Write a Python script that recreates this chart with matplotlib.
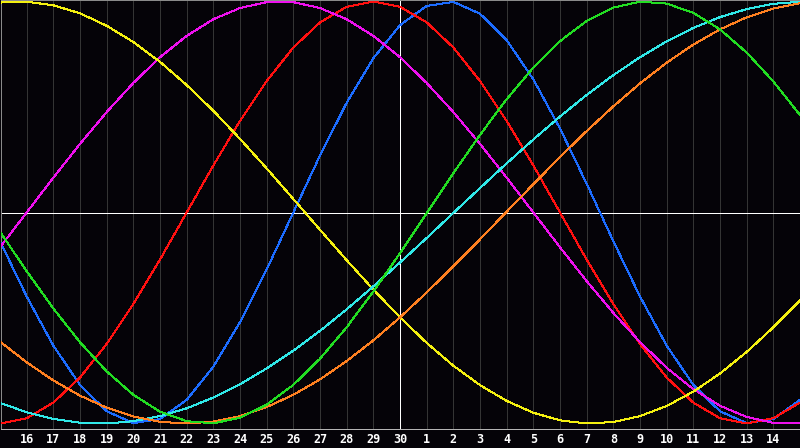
import matplotlib
matplotlib.use("Agg")
import matplotlib.pyplot as plt
from matplotlib.transforms import blended_transform_factory

# Day labels along the bottom (positions 1..29 of a 0..30 day window)
day_labels = [16, 17, 18, 19, 20, 21, 22, 23, 24, 25, 26, 27, 28, 29, 30,
              1, 2, 3, 4, 5, 6, 7, 8, 9, 10, 11, 12, 13, 14]
today_label = 30

# Daily cycle values (-1..1), one per day from day 15 to day 15
physical = [-0.136, -0.398, -0.631, -0.817, -0.942, -0.998, -0.979, -0.888, -0.731, -0.520,
            -0.270, -0.000, 0.270, 0.520, 0.731, 0.888, 0.979, 0.998, 0.942, 0.817, 0.631,
            0.398, 0.136, -0.136, -0.398, -0.631, -0.817, -0.942, -0.998, -0.979, -0.888]
emotional = [-1.000, -0.975, -0.901, -0.782, -0.623, -0.434, -0.223, -0.000, 0.223, 0.434,
             0.623, 0.782, 0.901, 0.975, 1.000, 0.975, 0.901, 0.782, 0.623, 0.434, 0.223,
             0.000, -0.223, -0.434, -0.623, -0.782, -0.901, -0.975, -1.000, -0.975, -0.901]
intellectual = [-0.091, -0.278, -0.455, -0.615, -0.753, -0.864, -0.944, -0.989, -0.999, -0.973,
                -0.911, -0.817, -0.693, -0.544, -0.375, -0.193, -0.004, 0.186, 0.368, 0.537,
                0.687, 0.812, 0.908, 0.971, 0.999, 0.990, 0.946, 0.868, 0.758, 0.621, 0.462]
intuitive = [-0.165, -0.000, 0.165, 0.325, 0.476, 0.614, 0.736, 0.837, 0.916, 0.969,
             0.997, 0.997, 0.969, 0.916, 0.837, 0.736, 0.614, 0.476, 0.325, 0.165, 0.000,
             -0.165, -0.325, -0.476, -0.614, -0.736, -0.837, -0.916, -0.969, -0.997, -0.997]
aesthetic = [0.995, 0.999, 0.982, 0.944, 0.885, 0.808, 0.714, 0.604, 0.482, 0.349,
             0.209, 0.064, -0.082, -0.226, -0.365, -0.497, -0.618, -0.726, -0.818, -0.893,
             -0.949, -0.985, -1.000, -0.993, -0.965, -0.917, -0.849, -0.763, -0.661, -0.544, -0.417]
awareness = [-0.612, -0.710, -0.796, -0.868, -0.925, -0.967, -0.992, -1.000, -0.991, -0.965,
             -0.922, -0.864, -0.791, -0.704, -0.606, -0.497, -0.379, -0.255, -0.127, 0.004,
             0.134, 0.263, 0.386, 0.503, 0.612, 0.710, 0.796, 0.868, 0.925, 0.967, 0.992]
spiritual = [-0.902, -0.947, -0.978, -0.996, -1.000, -0.989, -0.965, -0.928, -0.877, -0.814,
             -0.739, -0.655, -0.561, -0.459, -0.350, -0.237, -0.121, -0.002, 0.116, 0.233,
             0.346, 0.455, 0.557, 0.651, 0.736, 0.811, 0.875, 0.926, 0.964, 0.989, 0.999]

series = [
    (physical, "#1c6cff"),
    (emotional, "#ff1010"),
    (intuitive, "#ee10ee"),
    (aesthetic, "#f4f010"),
    (spiritual, "#30e8e8"),
    (awareness, "#ff8020"),
    (intellectual, "#22dd22"),
]

W, H = 800, 448
PX = 0.72  # one pixel in points at 100 dpi
fig = plt.figure(figsize=(W / 100, H / 100), dpi=100)
fig.patch.set_facecolor("#050308")

# axes spanning pixel x 0.5..799.5, y 0.5..428.5 (from top)
ax = fig.add_axes([0.5 / W, (H - 428.5) / H, 799 / W, 428 / H])
ax.set_facecolor("#050308")

n = len(physical)
days = list(range(n))

ax.set_xlim(0.5 / 26.667, 799.5 / 26.667)
ax.set_ylim(-216.0 / 211.0, 212.0 / 211.0)

# vertical day grid
for i in range(1, len(day_labels) + 1):
    ax.axvline(i, color="#343434", lw=PX, antialiased=False, zorder=1)

# centre lines
today_pos = day_labels.index(today_label) + 1
ax.axhline(0, color="white", lw=PX, antialiased=False, zorder=2)
ax.axvline(today_pos, color="white", lw=PX, antialiased=False, zorder=2)

for vals, col in series:
    ax.plot(days, vals, color=col, lw=PX, antialiased=False, zorder=3)

for s in ["left", "right", "top", "bottom"]:
    ax.spines[s].set_color("#8a8a8a")
    ax.spines[s].set_linewidth(PX)
ax.spines["bottom"].set_color("#b4b4b4")

ax.set_xticks([])
ax.set_yticks([])

tr = blended_transform_factory(ax.transData, fig.transFigure)
for i, lab in enumerate(day_labels, start=1):
    fig.text(i, (H - 443) / H, str(lab), transform=tr, ha="center", va="baseline",
             color="white", fontsize=8.5, fontweight="bold", family="DejaVu Sans Mono")

fig.savefig("out.png", dpi=100, facecolor=fig.get_facecolor())
